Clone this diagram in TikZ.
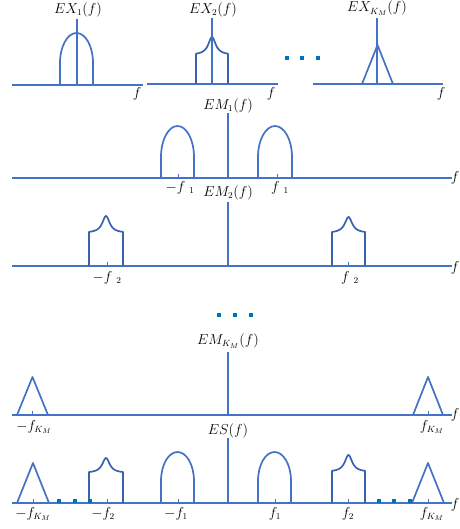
\documentclass[tikz,border=0pt]{standalone}
\usepackage{xcolor}
\definecolor{lb}{HTML}{4472C4}
\definecolor{pkb}{HTML}{3A62B0}
\definecolor{db}{HTML}{0070C0}
\newcommand\myarch[5]{\draw[sg] (#1,#3) -- (#1,#4) arc[start angle=180,end angle=360,x radius={(#2-#1)/2},y radius={#4-#5}] -- (#2,#3);}
\newcommand\mypeak[5]{\draw[sg,draw=pkb] (#1,#3) -- (#1,#4) -- plot[domain=-1:1,samples=61] ({(#1+#2)/2+\x*(#2-#1)/2},{#4-(#4-#5)/(1+(\x*(#2-#1)/2/4.5)^2)}) -- (#2,#3);}
\newcommand\mytri[4]{\draw[sg] (#1,#3) -- ({(#1+#2)/2},#4) -- (#2,#3);}
\newcommand\mytick[2]{\draw[tk] (#1,#2) -- (#1,#2-4);}
\begin{document}
\begin{tikzpicture}[x=1pt,y=-1pt,
 ax/.style={draw=lb,line width=2pt},
 sg/.style={draw=lb,line width=1.7pt,line join=round},
 tk/.style={draw=lb,line width=1pt},
 lab/.style={inner sep=0pt,font=\fontsize{13.5}{15}\selectfont},
 sq/.style={fill=db,inner sep=0pt,minimum size=4.2pt}]
\useasboundingbox (0,0) rectangle (459,529);

% ---------- Row 1 ----------
\coordinate (a1l) at (12,85); \coordinate (a1r) at (143,85);
\coordinate (a2l) at (147,84); \coordinate (a2r) at (278,84);
\coordinate (a3l) at (313,84); \coordinate (a3r) at (443,84);
\draw[ax] (a1l) -- (a1r);
\draw[ax] (a2l) -- (a2r);
\draw[ax] (a3l) -- (a3r);
\coordinate (v1b) at (77,85); \coordinate (v1t) at (77,19);
\coordinate (v2b) at (212,84); \coordinate (v2t) at (212,18);
\coordinate (v3b) at (377,84); \coordinate (v3t) at (377,18);
\myarch{60}{93}{85}{63}{33}
\mypeak{196}{228}{84}{55}{37}
\mytri{362}{393}{84}{45}
\draw[ax] (v1b) -- (v1t);
\draw[ax] (v2b) -- (v2t);
\draw[ax] (v3b) -- (v3t);
\node[lab] (ex1) at (78,9.5) {$EX_1(f)$};
\node[lab] (ex2) at (213,9.5) {$EX_2(f)$};
\node[lab] (exk) at (377,8.5) {$EX_{K_M}(f)$};
\node[lab] (f1) at (137,94) {$f$};
\node[lab] (f2) at (271,94) {$f$};
\node[lab] (f3) at (441,94) {$f$};
\node[sq] (d1) at (287,58) {}; \node[sq] (d2) at (302,58) {}; \node[sq] (d3) at (318,58) {};

% ---------- Row 2 ----------
\coordinate (b2l) at (12,178); \coordinate (b2r) at (452,178);
\draw[ax] (b2l) -- (b2r);
\myarch{161}{194}{178}{157}{126}
\myarch{258}{292}{178}{157}{126}
\mytick{178}{178} \mytick{277}{178}
\coordinate (w2b) at (228,178); \coordinate (w2t) at (228,113);
\draw[ax] (w2b) -- (w2t);
\node[lab] (em1) at (228,105.5) {$EM_1(f)$};
\node[lab] (m1) at (180,188) {$-f\;{}_1$};
\node[lab] (p1) at (280,188) {$f\;{}_1$};
\node[lab] (r2) at (455,178) {$f$};

% ---------- Row 3 ----------
\coordinate (b3l) at (12,266); \coordinate (b3r) at (452,266);
\draw[ax] (b3l) -- (b3r);
\mypeak{89}{123}{266}{233}{216}
\mypeak{332}{365}{266}{233}{217}
\mytick{107}{266} \mytick{348}{266}
\coordinate (w3b) at (228,266); \coordinate (w3t) at (228,202);
\draw[ax] (w3b) -- (w3t);
\node[lab] (em2) at (228,192.5) {$EM_2(f)$};
\node[lab] (m2) at (107,278) {$-f\;{}_2$};
\node[lab] (p2) at (350,278) {$f\;{}_2$};
\node[lab] (r3) at (455,268) {$f$};

\node[sq] (e1) at (219,315) {}; \node[sq] (e2) at (235,315) {}; \node[sq] (e3) at (251,315) {};

% ---------- Row 4 ----------
\coordinate (b4l) at (12,415); \coordinate (b4r) at (452,415);
\draw[ax] (b4l) -- (b4r);
\mytri{17}{48}{415}{377}
\mytri{413}{443}{415}{377}
\mytick{32}{415} \mytick{428}{415}
\coordinate (w4b) at (228,415); \coordinate (w4t) at (228,352);
\draw[ax] (w4b) -- (w4t);
\node[lab] (emk) at (228,341) {$EM_{K_M}(f)$};
\node[lab] (mk) at (34,427) {$-f_{K_M}$};
\node[lab] (pk) at (432,427) {$f_{K_M}$};
\node[lab] (r4) at (455,415) {$f$};

% ---------- Row 5 ----------
\coordinate (b5l) at (12,503); \coordinate (b5r) at (452,503);
\draw[ax] (b5l) -- (b5r);
\mytri{17}{49}{503}{463}
\mypeak{89}{123}{503}{473}{458}
\myarch{161}{194}{503}{481}{452}
\myarch{258}{291}{503}{481}{452}
\mypeak{332}{365}{503}{472}{455}
\mytri{412}{444}{503}{463}
\mytick{33}{503} \mytick{107}{503} \mytick{178}{503} \mytick{275}{503} \mytick{348}{503} \mytick{428}{503}
\coordinate (w5b) at (228,503); \coordinate (w5t) at (228,438);
\draw[ax] (w5b) -- (w5t);
\node[lab] (es) at (228,430.5) {$ES(f)$};
\node[sq] (g1) at (59,501) {}; \node[sq] (g2) at (75,501) {}; \node[sq] (g3) at (90,501) {};
\node[sq] (h1) at (379,501) {}; \node[sq] (h2) at (394,501) {}; \node[sq] (h3) at (410,501) {};
\node[lab] (nk) at (33,514) {$-f_{K_M}$};
\node[lab] (n2) at (103,514) {$-f_2$};
\node[lab] (n1) at (176,514) {$-f_1$};
\node[lab] (q1) at (275,514) {$f_1$};
\node[lab] (q2) at (348,514) {$f_2$};
\node[lab] (qk) at (432,514) {$f_{K_M}$};
\node[lab] (r5) at (455,505) {$f$};
\end{tikzpicture}
\end{document}
